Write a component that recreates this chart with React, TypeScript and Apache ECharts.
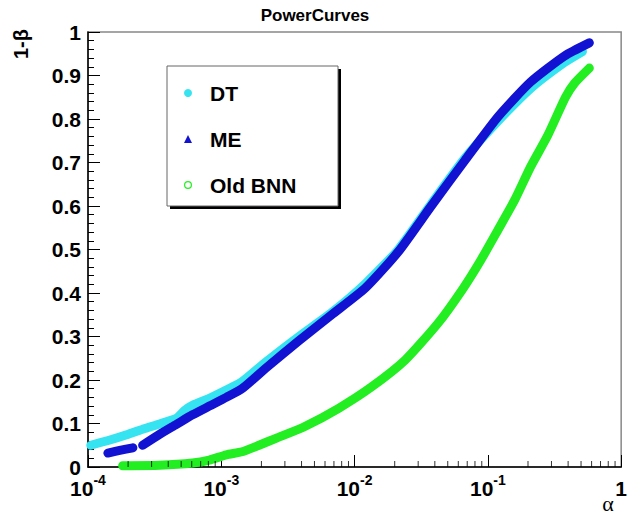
import React, { useEffect, useRef } from 'react';
import * as echarts from 'echarts';

// alpha (x, log scale) and 1-beta (y)
const dtAlpha = [1.05e-4, 1.46e-4, 1.95e-4, 2.57e-4, 3.44e-4, 4.61e-4, 5.3e-4, 6.08e-4, 8.13e-4, 1.09e-3, 1.43e-3, 2.17e-3, 3.82e-3, 6.73e-3, 1.21e-2, 2.13e-2, 3.76e-2, 6.73e-2, 0.119, 0.209, 0.376, 0.512];
const dtPower = [0.05, 0.062, 0.074, 0.087, 0.099, 0.112, 0.13, 0.142, 0.158, 0.177, 0.196, 0.242, 0.3, 0.355, 0.422, 0.5, 0.605, 0.71, 0.795, 0.87, 0.93, 0.955];

const meAlpha = [1.41e-4, 1.73e-4, 2.17e-4, 2.35e-4, 2.57e-4, 3.44e-4, 4.61e-4, 6.08e-4, 8.13e-4, 1.09e-3, 1.43e-3, 2.17e-3, 3.82e-3, 6.73e-3, 1.21e-2, 2.13e-2, 3.76e-2, 6.73e-2, 0.119, 0.209, 0.376, 0.577];
const mePower: (number | string)[] = [0.032, 0.038, 0.044, '-', 0.05, 0.075, 0.098, 0.12, 0.14, 0.16, 0.18, 0.228, 0.29, 0.35, 0.412, 0.495, 0.6, 0.705, 0.805, 0.885, 0.945, 0.975];

const bnnAlpha = [1.82e-4, 3.44e-4, 6.08e-4, 8.13e-4, 1.09e-3, 1.43e-3, 1.92e-3, 2.57e-3, 4.16e-3, 7.6e-3, 1.34e-2, 2.4e-2, 4.24e-2, 6.5e-2, 8.87e-2, 0.119, 0.159, 0.209, 0.281, 0.382, 0.446, 0.577];
const bnnPower = [0.003, 0.004, 0.009, 0.016, 0.028, 0.035, 0.05, 0.066, 0.092, 0.135, 0.184, 0.246, 0.331, 0.41, 0.476, 0.545, 0.614, 0.69, 0.762, 0.85, 0.882, 0.917];

const xMinorTicks = [
  2e-4, 3e-4, 4e-4, 5e-4, 6e-4, 7e-4, 8e-4, 9e-4,
  2e-3, 3e-3, 4e-3, 5e-3, 6e-3, 7e-3, 8e-3, 9e-3,
  2e-2, 3e-2, 4e-2, 5e-2, 6e-2, 7e-2, 8e-2, 9e-2,
  0.2, 0.3, 0.4, 0.5, 0.6, 0.7, 0.8, 0.9,
];

const seriesNames = ['DT', 'ME', 'Old BNN'];
const seriesColors = ['#35e4f0', '#1212d2', '#22ee22'];

const FONT = '"Liberation Sans", Arial, sans-serif';
const RING_ICON = 'path://M0,-10 A10,10 0 1,1 0,10 A10,10 0 1,1 0,-10 Z M0,-7 A7,7 0 1,0 0,7 A7,7 0 1,0 0,-7 Z';

export default function App() {
  const ref = useRef<HTMLDivElement>(null);
  useEffect(() => {
    const chart = echarts.init(ref.current!, null, { renderer: 'svg' });
    const pair = (xs: number[], ys: (number | string)[]) => xs.map((x, i) => [x, ys[i]]);
    const lineSeries = (name: string, color: string, data: any[]) => ({
      name,
      type: 'line',
      data,
      showSymbol: false,
      symbol: 'none',
      connectNulls: false,
      smooth: 0.2,
      itemStyle: { color },
      lineStyle: { color, width: 9, cap: 'round', join: 'round' },
      z: 2,
    });
    chart.setOption({
      animation: false,
      backgroundColor: '#fff',
      title: {
        text: 'PowerCurves',
        left: 'center',
        top: 2,
        textStyle: { fontSize: 17, fontWeight: 'bold', fontFamily: FONT, color: '#000' },
      },
      grid: {
        left: 88, right: 6, top: 32, bottom: 50,
        show: true, borderColor: '#888', borderWidth: 1.5, backgroundColor: 'transparent',
      },
      legend: {
        orient: 'vertical',
        left: 179,
        top: 76,
        itemWidth: 8,
        itemHeight: 8,
        itemGap: 22,
        selectedMode: false,
        data: [
          { name: 'DT', icon: 'circle', itemStyle: { color: seriesColors[0] } },
          { name: 'ME', icon: 'triangle', itemStyle: { color: seriesColors[1] } },
          { name: 'Old BNN', icon: RING_ICON, itemStyle: { color: seriesColors[2] } },
        ],
        formatter: (name: string) => `{n|${name}}`,
        textStyle: {
          fontSize: 21, fontWeight: 'bold', color: '#000', fontFamily: FONT, lineHeight: 24,
          rich: { n: { fontSize: 21, fontWeight: 'bold', color: '#000', fontFamily: FONT, lineHeight: 24, padding: [0, 0, 0, 13] } },
        },
        z: 10,
      },
      xAxis: {
        type: 'log',
        logBase: 10,
        min: 1e-4,
        max: 1,
        splitNumber: 4,
        axisLine: { lineStyle: { color: '#000', width: 1.5 } },
        axisTick: { inside: true, length: 12, lineStyle: { color: '#000', width: 1 } },
        splitLine: { show: false },
        axisLabel: {
          margin: 6,
          showMinLabel: true,
          showMaxLabel: true,
          formatter: (v: number) => {
            const e = Math.round(Math.log10(v));
            if (e === 0) return '{b|1}';
            return `{b|10}{s|${e}}`;
          },
          rich: {
            b: { fontSize: 21, fontWeight: 'bold', fontFamily: FONT, color: '#000', lineHeight: 30 },
            s: { fontSize: 14, fontWeight: 'bold', fontFamily: FONT, color: '#000', lineHeight: 12, verticalAlign: 'top' },
          },
        },
      },
      yAxis: {
        type: 'value',
        min: 0,
        max: 1,
        interval: 0.1,
        axisLine: { show: true, lineStyle: { color: '#000', width: 1.5 } },
        axisTick: { show: true, inside: true, length: 12, lineStyle: { color: '#000', width: 1 } },
        minorTick: { show: true, splitNumber: 5, length: 6, lineStyle: { color: '#000', width: 1 } },
        splitLine: { show: false },
        axisLabel: {
          margin: 7,
          fontSize: 21,
          fontWeight: 'bold',
          fontFamily: FONT,
          color: '#000',
          formatter: (v: number) => (v === 0 ? '0' : v === 1 ? '1' : v.toFixed(1)),
        },
      },
      series: [
        lineSeries(seriesNames[0], seriesColors[0], pair(dtAlpha, dtPower)),
        lineSeries(seriesNames[1], seriesColors[1], pair(meAlpha, mePower)),
        lineSeries(seriesNames[2], seriesColors[2], pair(bnnAlpha, bnnPower)),
        {
          name: 'xMinor',
          type: 'scatter',
          data: xMinorTicks.map((v) => [v, 0]),
          symbol: 'rect',
          symbolSize: [1, 6],
          symbolOffset: [0, -3],
          itemStyle: { color: '#000' },
          silent: true,
          clip: false,
          z: 5,
        },
      ],
      graphic: [
        { type: 'rect', z: 3, shape: { x: 170, y: 69, width: 171, height: 140 }, style: { fill: '#000' } },
        { type: 'rect', z: 3, shape: { x: 167, y: 66, width: 171, height: 140 }, style: { fill: '#fff', stroke: '#666', lineWidth: 1 } },
        {
          type: 'text', x: 21, y: 44, rotation: Math.PI / 2, z: 5,
          style: { text: '1-β', font: `bold 20px ${FONT}`, fill: '#000', align: 'center', verticalAlign: 'middle' },
        },
        {
          type: 'text', x: 608, y: 503, z: 5,
          style: { text: 'α', font: '22px "Liberation Serif", serif', fill: '#000', align: 'center', verticalAlign: 'middle' },
        },
      ],
    });
    return () => chart.dispose();
  }, []);
  return <div ref={ref} style={{ position: 'absolute', left: 0, top: 0, width: 630, height: 517 }} />;
}
